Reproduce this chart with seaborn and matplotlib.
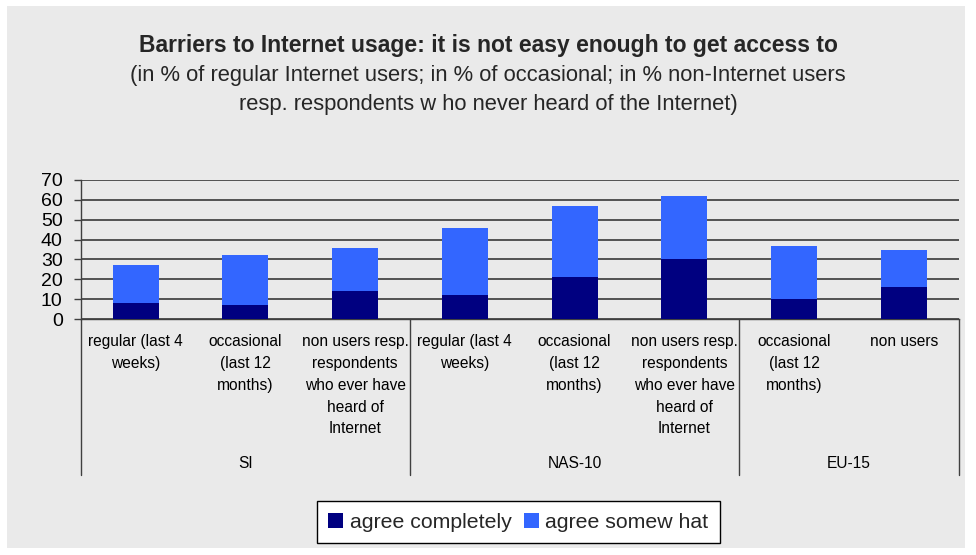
import matplotlib
matplotlib.use('Agg')
import matplotlib.pyplot as plt
import matplotlib.transforms as mtransforms
from matplotlib.patches import Rectangle, Patch
import seaborn as sns
import pandas as pd

# ---- data ----
keys = ["c0", "c1", "c2", "c3", "c4", "c5", "c6", "c7"]
categories = [
    "regular (last 4\nweeks)",
    "occasional\n(last 12\nmonths)",
    "non users resp.\nrespondents\nwho ever have\nheard of\nInternet",
    "regular (last 4\nweeks)",
    "occasional\n(last 12\nmonths)",
    "non users resp.\nrespondents\nwho ever have\nheard of\nInternet",
    "occasional\n(last 12\nmonths)",
    "non users",
]
group_names = ["SI", "NAS-10", "EU-15"]
group_sizes = [3, 3, 2]
agree_completely = [8, 7, 14, 12, 21, 30, 10, 16]
agree_somewhat = [19, 25, 22, 34, 36, 32, 27, 19]
yticks = [0, 10, 20, 30, 40, 50, 60, 70]
series_names = ["agree completely", "agree somew hat"]
title = "Barriers to Internet usage: it is not easy enough to get access to"
subtitle1 = "(in % of regular Internet users; in % of occasional; in % non-Internet users"
subtitle2 = "resp. respondents w ho never heard of the Internet)"

totals = [a + b for a, b in zip(agree_completely, agree_somewhat)]
df = pd.DataFrame({"key": keys, "complete": agree_completely, "total": totals})

C_DARK = "#000080"
C_LIGHT = "#3366FF"
BG = "#EAEAEA"

sns.set_theme(style="white")
plt.rcParams['font.family'] = ['Liberation Sans', 'DejaVu Sans']

W, H = 976, 555
fig = plt.figure(figsize=(W / 100, H / 100), dpi=100, facecolor="white")
fig.patches.append(Rectangle((7 / W, 1 - 548 / H), (965 - 7) / W, (548 - 6) / H,
                             transform=fig.transFigure, facecolor=BG,
                             edgecolor="none", zorder=-10))

x0, x1 = 80.7, 958.7
y_top, y_bot = 179.7, 319.3
ax = fig.add_axes([x0 / W, 1 - y_bot / H, (x1 - x0) / W, (y_bot - y_top) / H])
ax.patch.set_alpha(0)

sns.barplot(data=df, x="key", y="total", order=keys, color=C_LIGHT, width=0.42,
            saturation=1, edgecolor="none", linewidth=0, ax=ax, zorder=3)
sns.barplot(data=df, x="key", y="complete", order=keys, color=C_DARK, width=0.42,
            saturation=1, edgecolor="none", linewidth=0, ax=ax, zorder=4)

ax.set_xlim(-0.5, len(keys) - 0.5)
ax.set_ylim(0, 70)
ax.set_yticks(yticks)
ax.set_yticklabels([str(v) for v in yticks], fontsize=14, color="black")
ax.set_xticks(range(len(keys)))
ax.set_xticklabels([""] * len(keys))
ax.set_xlabel("")
ax.set_ylabel("")
ax.yaxis.grid(True, color="#2a2a2a", linewidth=1.1)
ax.set_axisbelow(True)
ax.tick_params(axis="y", length=5, width=1, color="#404040", pad=8, left=True)
ax.tick_params(axis="x", length=0)
for s in ["top", "right"]:
    ax.spines[s].set_visible(False)
for s in ["left", "bottom"]:
    ax.spines[s].set_color("#404040")
    ax.spines[s].set_linewidth(1)

trans = mtransforms.blended_transform_factory(ax.transData, ax.transAxes)
ph = y_bot - y_top

def ya(px):
    return (y_bot - px) / ph

# separators
bounds = [-0.5]
acc = -0.5
for g in group_sizes:
    acc += g
    bounds.append(acc)
for b in bounds:
    ax.plot([b, b], [0, ya(475)], transform=trans, color="#404040", lw=1, clip_on=False)

# category labels
for i, lab in enumerate(categories):
    ax.text(i, ya(334), lab, transform=trans, ha="center", va="top",
            fontsize=11.2, linespacing=1.57, color="black")

# group labels
start = 0
for name, g in zip(group_names, group_sizes):
    cx = start + (g - 1) / 2
    ax.text(cx, ya(463), name, transform=trans, ha="center", va="center",
            fontsize=11.2, color="black")
    start += g

# titles
fig.text(0.5, 1 - 52 / H, title, ha="center", va="baseline", fontsize=16.5,
         weight="bold")
fig.text(0.5, 1 - 81 / H, subtitle1, ha="center", va="baseline", fontsize=15.8)
fig.text(0.5, 1 - 110 / H, subtitle2, ha="center", va="baseline", fontsize=15.8)

# legend
handles = [Patch(facecolor=C_DARK, edgecolor="none"), Patch(facecolor=C_LIGHT, edgecolor="none")]
leg = fig.legend(handles, series_names, loc="center",
                 bbox_to_anchor=(518.5 / W, 1 - 522 / H), ncol=2, frameon=True,
                 fontsize=15.3, handlelength=0.7, handleheight=0.7,
                 handletextpad=0.3, columnspacing=0.6, borderpad=0.55,
                 fancybox=False, edgecolor="black", framealpha=1, facecolor="white")
leg.get_frame().set_linewidth(1)

fig.savefig("out.png", dpi=100, facecolor="white")
